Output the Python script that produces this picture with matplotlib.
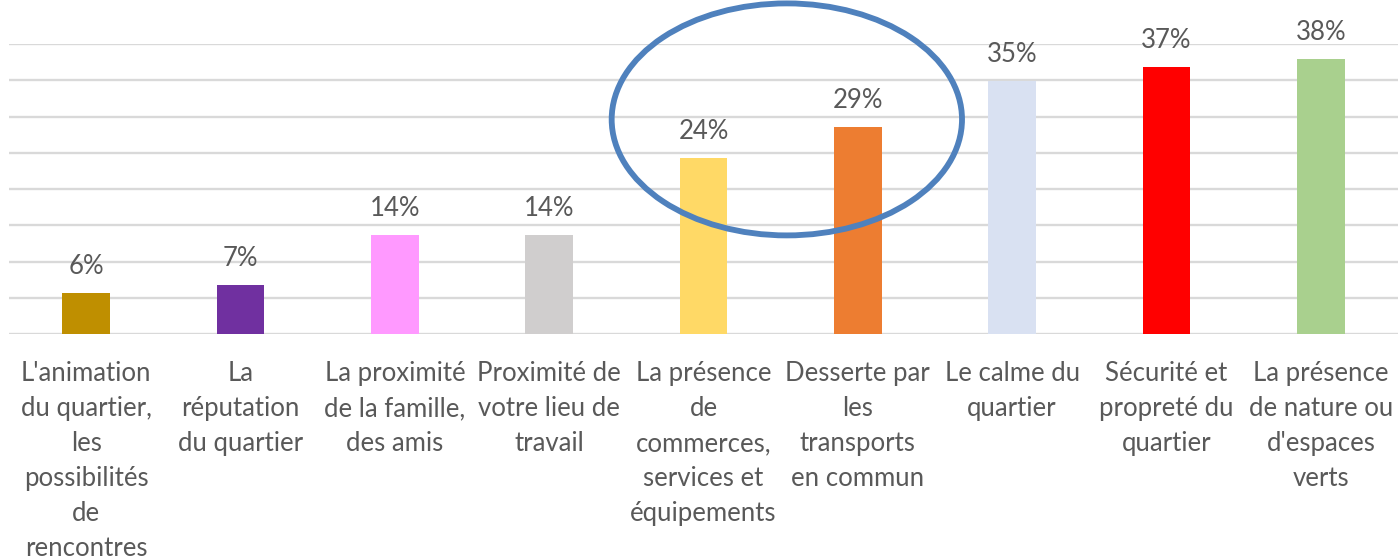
from matplotlib import pyplot as plt
from matplotlib.patches import Ellipse

categories = [
    "L'animation\ndu quartier,\nles\npossibilités\nde\nrencontres",
    "La\nréputation\ndu quartier",
    "La proximité\nde la famille,\ndes amis",
    "Proximité de\nvotre lieu de\ntravail",
    "La présence\nde\ncommerces,\nservices et\néquipements",
    "Desserte par\nles\ntransports\nen commun",
    "Le calme du\nquartier",
    "Sécurité et\npropreté du\nquartier",
    "La présence\nde nature ou\nd'espaces\nverts",
]
values = [5.7, 6.8, 13.7, 13.7, 24.3, 28.6, 34.9, 36.8, 37.9]
labels = ["6%", "7%", "14%", "14%", "24%", "29%", "35%", "37%", "38%"]
colors = ["#BF8F00", "#7030A0", "#FF99FF", "#D0CECE", "#FFD966",
          "#ED7D31", "#D9E1F2", "#FF0000", "#A9D08E"]

plt.rcParams['font.family'] = ['Lato', 'DejaVu Sans']
text_color = '#595959'

fig = plt.figure(figsize=(13.98, 5.58), dpi=100)
ax = fig.add_axes([9 / 1398, (558 - 334) / 558, 1 - 9 / 1398, (334 - 44) / 558])

x = range(len(categories))
ax.bar(x, values, width=0.31, color=colors, zorder=3)
for i, v in enumerate(values):
    ax.text(i, v + 1.9, labels[i], ha='center', va='bottom',
            fontsize=18.5, color=text_color)

ax.set_xlim(-0.5, len(categories) - 0.5)
ax.set_ylim(0, 40)
ax.set_yticks(range(0, 41, 5))
ax.yaxis.grid(True, color='#D9D9D9', linewidth=1.7, zorder=0)
ax.tick_params(left=False, labelleft=False, bottom=False)
ax.set_xticks(list(x))
ax.set_xticklabels(categories, fontsize=18.5, color=text_color,
                   linespacing=1.5, va='top')
ax.tick_params(axis='x', pad=16)
for s in ax.spines.values():
    s.set_visible(False)

# highlight around the two transport/commerce bars
ax.add_patch(Ellipse((4.54, 29.6), 2.27, 32.0, fill=False,
                     edgecolor='#4F81BD', linewidth=4.2,
                     clip_on=False, zorder=4))

fig.savefig('out.png', dpi=100)
